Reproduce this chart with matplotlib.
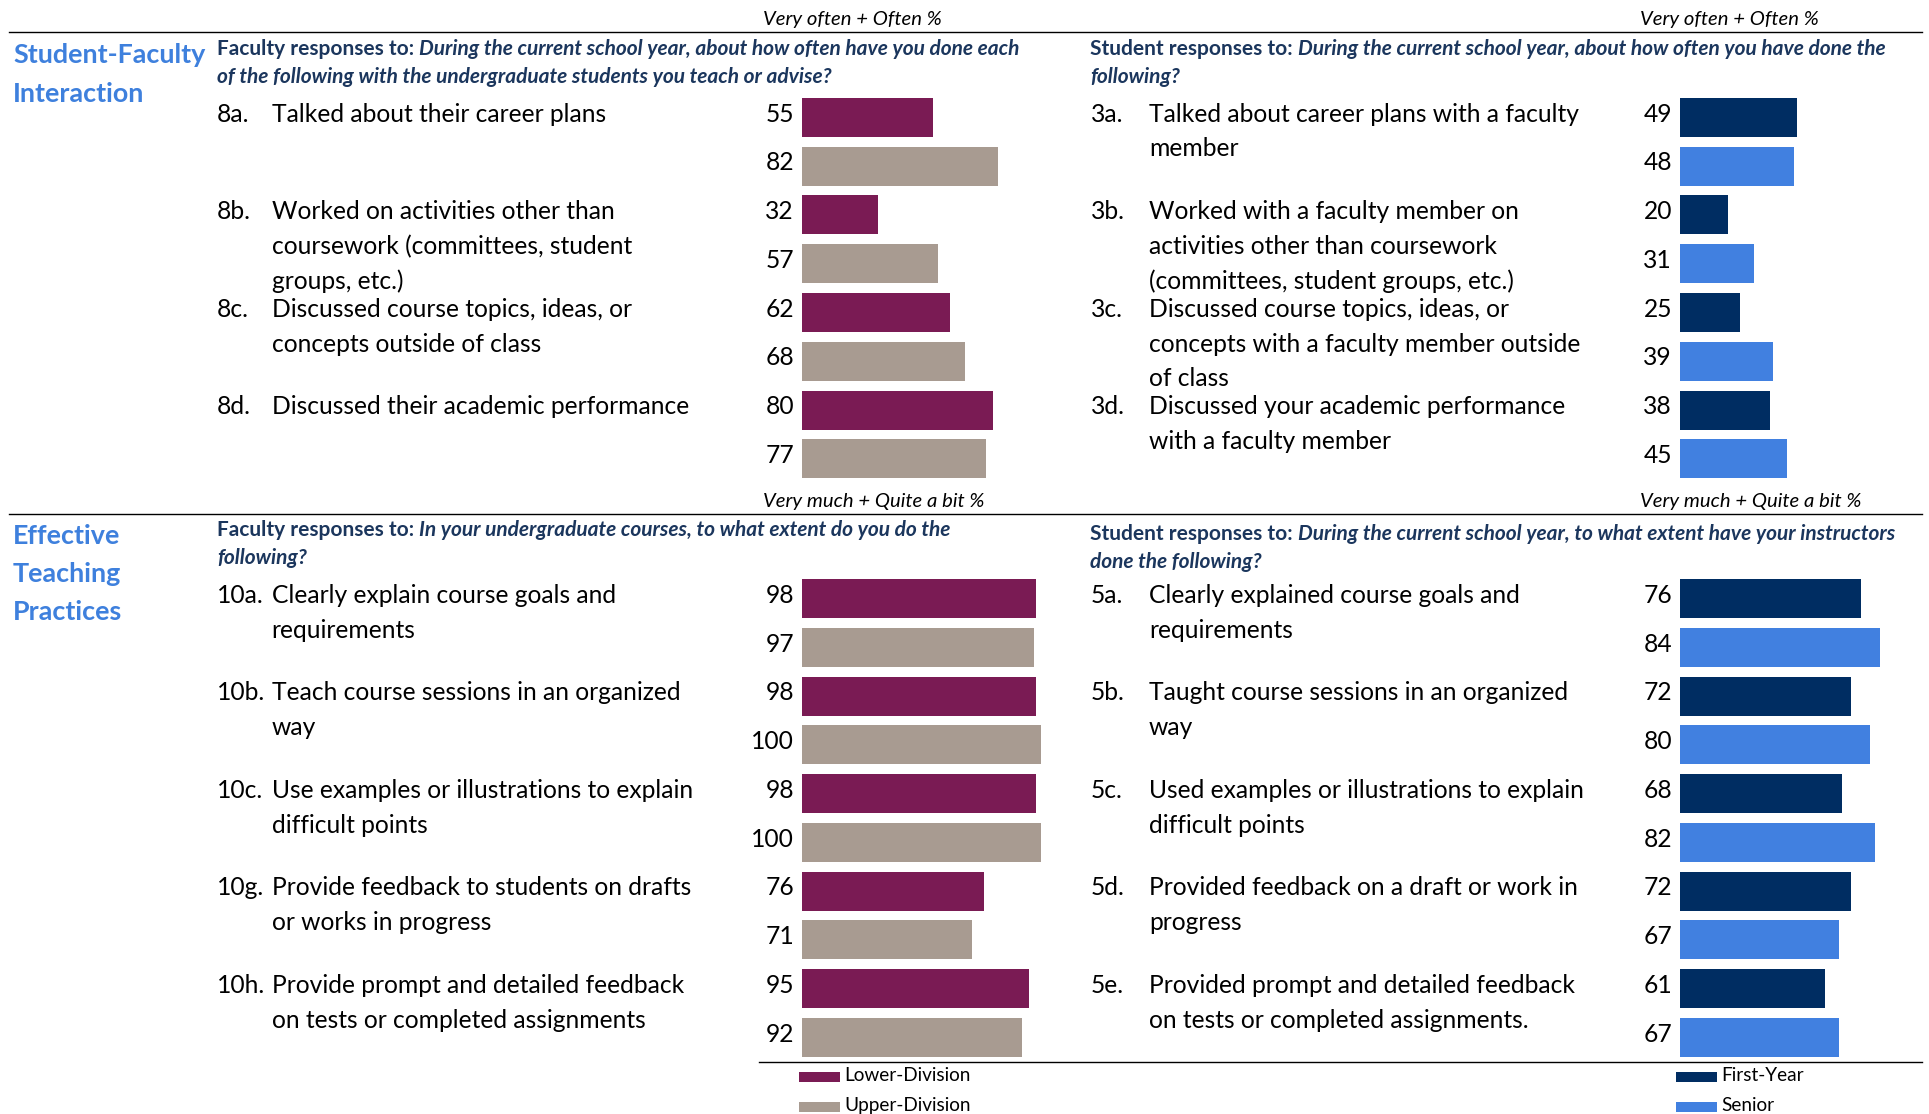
import matplotlib
matplotlib.use("Agg")
import matplotlib.pyplot as plt
from matplotlib.patches import Rectangle

W, H, DPI = 1929, 1114, 100

# ---- survey items and percentages -------------------------------------
fac_often_codes = ["8a.", "8b.", "8c.", "8d."]
fac_often_items = [
    ["Talked about their career plans"],
    ["Worked on activities other than", "coursework (committees, student", "groups, etc.)"],
    ["Discussed course topics, ideas, or", "concepts outside of class"],
    ["Discussed their academic performance"],
]
fac_often_lower = [55, 32, 62, 80]
fac_often_upper = [82, 57, 68, 77]

stu_often_codes = ["3a.", "3b.", "3c.", "3d."]
stu_often_items = [
    ["Talked about career plans with a faculty", "member"],
    ["Worked with a faculty member on", "activities other than coursework",
     "(committees, student groups, etc.)"],
    ["Discussed course topics, ideas, or", "concepts with a faculty member outside", "of class"],
    ["Discussed your academic performance", "with a faculty member"],
]
stu_often_first = [49, 20, 25, 38]
stu_often_senior = [48, 31, 39, 45]

fac_teach_codes = ["10a.", "10b.", "10c.", "10g.", "10h."]
fac_teach_items = [
    ["Clearly explain course goals and", "requirements"],
    ["Teach course sessions in an organized", "way"],
    ["Use examples or illustrations to explain", "difficult points"],
    ["Provide feedback to students on drafts", "or works in progress"],
    ["Provide prompt and detailed feedback", "on tests or completed assignments"],
]
fac_teach_lower = [98, 98, 98, 76, 95]
fac_teach_upper = [97, 100, 100, 71, 92]

stu_teach_codes = ["5a.", "5b.", "5c.", "5d.", "5e."]
stu_teach_items = [
    ["Clearly explained course goals and", "requirements"],
    ["Taught course sessions in an organized", "way"],
    ["Used examples or illustrations to explain", "difficult points"],
    ["Provided feedback on a draft or work in", "progress"],
    ["Provided prompt and detailed feedback", "on tests or completed assignments."],
]
stu_teach_first = [76, 72, 68, 72, 61]
stu_teach_senior = [84, 80, 82, 67, 67]

faculty_groups = ["Lower-Division", "Upper-Division"]
student_groups = ["First-Year", "Senior"]

# ---- styling ----------------------------------------------------------
PURPLE, TAUPE = "#7A1B54", "#A89B91"
NAVY, BLUE = "#002D62", "#4180E0"
TITLE_BLUE = "#3E80DD"
HEAD_NAVY = "#1B365D"
FONT = "Lato"
ITEM_SIZE = 17.7
HEAD_SIZE = 15
TITLE_SIZE = 19.4
SCALE_SIZE = 14.6
LEG_SIZE = 13.7
PITCH = 48.75
LINE_GAP = 34.8

plt.rcParams["font.family"] = FONT

fig = plt.figure(figsize=(W / DPI, H / DPI), dpi=DPI)
canvas = fig.add_axes([0, 0, 1, 1])
canvas.set_xlim(0, W)
canvas.set_ylim(H, 0)
canvas.axis("off")
renderer = fig.canvas.get_renderer()


def panel(x0, span, first_center, codes, items, vals1, vals2, c1, c2, code_x, text_x):
    n = len(codes)
    top = first_center - PITCH / 2
    bottom = top + 2 * n * PITCH
    bax = fig.add_axes([x0 / W, 1 - bottom / H, span / W, (bottom - top) / H])
    bax.set_xlim(0, 100)
    bax.set_ylim(2 * n - 0.5, -0.5)
    bax.axis("off")
    pos1 = [2 * i for i in range(n)]
    pos2 = [2 * i + 1 for i in range(n)]
    bax.barh(pos1, vals1, height=0.8, color=c1)
    bax.barh(pos2, vals2, height=0.8, color=c2)
    for p, v in list(zip(pos1, vals1)) + list(zip(pos2, vals2)):
        bax.annotate(f"{v}", xy=(0, p), xytext=(-8, -4.2), textcoords="offset pixels",
                     ha="right", va="baseline", fontsize=ITEM_SIZE, color="black")
    for i, (code, lines) in enumerate(zip(codes, items)):
        yc = first_center + 2 * i * PITCH
        clip = Rectangle((0, yc - PITCH / 2), W, 2 * PITCH, transform=canvas.transData)
        base = yc + 4.2
        canvas.text(code_x, base, code, fontsize=ITEM_SIZE, va="baseline", ha="left")
        for j, line in enumerate(lines):
            t = canvas.text(text_x, base + j * LINE_GAP, line, fontsize=ITEM_SIZE,
                            va="baseline", ha="left")
            t.set_clip_path(clip)


def header(x, y, lead, line1, line2, gap2=28):
    t = canvas.text(x, y, lead, fontsize=HEAD_SIZE, fontweight="bold", color=HEAD_NAVY,
                    va="baseline", ha="left")
    w = t.get_window_extent(renderer).width
    canvas.text(x + w + 5, y, line1, fontsize=HEAD_SIZE, fontweight="bold", style="italic",
                color=HEAD_NAVY, va="baseline", ha="left")
    canvas.text(x, y + gap2, line2, fontsize=HEAD_SIZE, fontweight="bold", style="italic",
                color=HEAD_NAVY, va="baseline", ha="left")


# rules
canvas.plot([9, 1922], [32.3, 32.3], color="black", lw=1.0)
canvas.plot([9, 1922], [514, 514], color="black", lw=1.0)
canvas.plot([759, 1922], [1062, 1062], color="black", lw=1.0)

# section titles
for y, s in [(63, "Student-Faculty"), (101.5, "Interaction"),
             (544.3, "Effective"), (582.5, "Teaching"), (620, "Practices")]:
    canvas.text(13, y, s, fontsize=TITLE_SIZE, fontweight="bold", color=TITLE_BLUE,
                va="baseline", ha="left")

# response scale captions
for x, y, s in [(763, 25, "Very often + Often %"), (1640, 25, "Very often + Often %"),
                (763, 506.5, "Very much + Quite a bit %"), (1640, 506.5, "Very much + Quite a bit %")]:
    canvas.text(x, y, s, fontsize=SCALE_SIZE, style="italic", va="baseline", ha="left")

# question headers
header(217, 55, "Faculty responses to:",
       "During the current school year, about how often have you done each",
       "of the following with the undergraduate students you teach or advise?")
header(1090, 55, "Student responses to:",
       "During the current school year, about how often you have done the",
       "following?")
header(217, 536, "Faculty responses to:",
       "In your undergraduate courses, to what extent do you do the",
       "following?")
header(1090, 540, "Student responses to:",
       "During the current school year, to what extent have your instructors",
       "done the following?")

# bar panels
panel(802, 239, 117.5, fac_often_codes, fac_often_items, fac_often_lower, fac_often_upper,
      PURPLE, TAUPE, 217, 271.5)
panel(1680, 238, 117.5, stu_often_codes, stu_often_items, stu_often_first, stu_often_senior,
      NAVY, BLUE, 1091, 1149)
panel(802, 239, 598.6, fac_teach_codes, fac_teach_items, fac_teach_lower, fac_teach_upper,
      PURPLE, TAUPE, 217, 271.5)
panel(1680, 238, 598.6, stu_teach_codes, stu_teach_items, stu_teach_first, stu_teach_senior,
      NAVY, BLUE, 1091, 1149)

# legend keys
for x, names, cols in [(799, faculty_groups, [PURPLE, TAUPE]),
                       (1676, student_groups, [NAVY, BLUE])]:
    for k, (name, col) in enumerate(zip(names, cols)):
        yk = 1072 + 30 * k
        canvas.add_patch(Rectangle((x, yk), 41, 10, color=col, lw=0))
        canvas.text(x + 45, yk + 3.5, name, fontsize=LEG_SIZE, va="center", ha="left")

fig.savefig("out.png", dpi=DPI)
